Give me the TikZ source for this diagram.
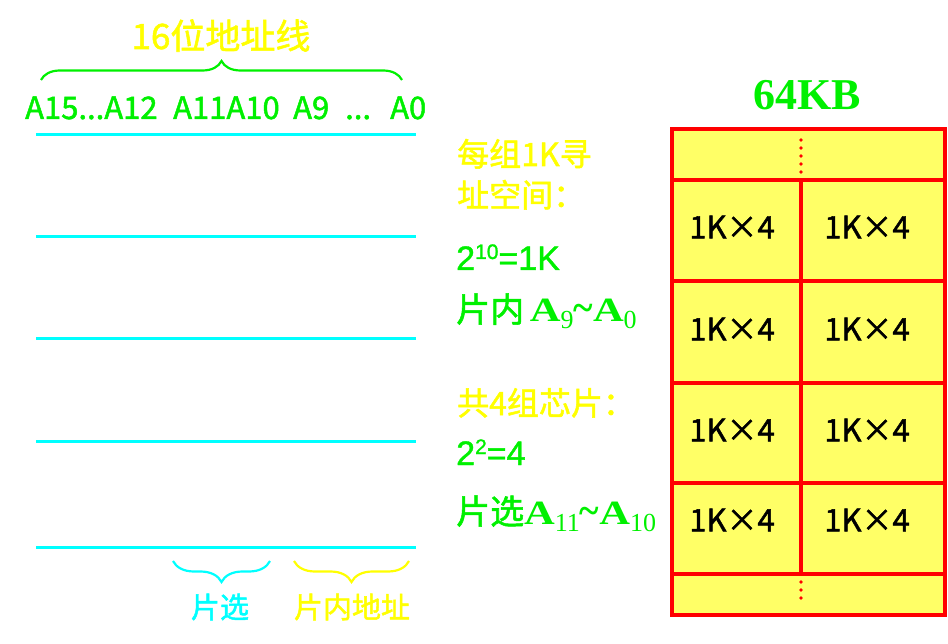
\documentclass[tikz,border=0pt]{standalone}
\usepackage{fontspec}
\setmainfont{Noto Sans CJK SC}[FakeBold=1.6]
\newfontfamily\timesbf{Liberation Serif}
\newfontfamily\arialfont{Liberation Sans}[FakeBold=1.2]
\usepackage{graphicx}
\usetikzlibrary{positioning, decorations.pathreplacing, calc}

\definecolor{addrgreen}{RGB}{0,240,0}
\definecolor{hiyellow}{RGB}{255,255,0}
\definecolor{linecyan}{RGB}{0,255,255}
\definecolor{cellfill}{RGB}{255,255,102}

% bold serif A with a lowered index
\newcommand{\addrA}[1]{{\timesbf\bfseries\scalebox{1.25}[1]{A}}%
  \raisebox{-7pt}{\timesbf\fontsize{26}{26}\selectfont #1}}
\newcommand{\addrtilde}{{\timesbf\bfseries\scalebox{1.1}[1.2]{\textasciitilde}}}
\newcommand{\pxfont}[1]{\fontsize{#1}{#1}\selectfont}

\begin{document}
\begin{tikzpicture}[x=1pt, y=-1pt,
    txt/.style={inner sep=0pt, anchor=base west},
    ytxt/.style={txt, hiyellow, font=\pxfont{32}},
    gtxt/.style={txt, addrgreen, font=\pxfont{34}},
    addr/.style={txt, addrgreen, font=\pxfont{31}},
    busline/.style={linecyan, line width=3pt},
    curly/.style={line width=2.2pt, decorate, decoration={brace, amplitude=#1}},
    chip/.style={inner sep=0pt, font=\pxfont{31}},
    memline/.style={red, line width=4pt}]
  \useasboundingbox (0,0) rectangle (948,644);

  % 16 address lines
  \node[inner sep=0pt, anchor=base, hiyellow, font=\pxfont{35}] (title) at (221,49) {16位地址线};
  \draw[addrgreen, curly=19pt] (41,80) -- (402,80);
  \node[addr] (a15) at (25,119) {A15...A12};
  \node[addr] (a11) at (173,119) {A11A10};
  \node[addr] (a9)  at (293,119) {A9};
  \node[addr] (adots) at (345,119) {...};
  \node[addr] (a0)  at (390,119) {A0};

  % lines of the bus
  \foreach \y in {135,237,339,441,547}
    \draw[busline] (36,\y) -- (416,\y);

  % braces below the bus
  \draw[linecyan, curly=21pt] (270,561) -- (173,561);
  \draw[hiyellow, curly=21pt] (409,561) -- (294,561);
  \node[inner sep=0pt, linecyan, font=\pxfont{29}] (csel) at (220,607) {片选};
  \node[inner sep=0pt, hiyellow, font=\pxfont{29}] (inaddr) at (352,607) {片内地址};

  % notes in the middle
  \node[ytxt] (n1) at (457,166) {每组1K寻};
  \node[ytxt] (n2) at (457,207) {址空间：};
  \node[gtxt] (n3) at (456,270) {\arialfont 2\raisebox{11pt}{\pxfont{21}10}=1K};
  \node[gtxt] (n4) at (456,322) {片内\,\addrA{9}\addrtilde\addrA{0}};
  \node[ytxt] (n5) at (457,415) {共4组芯片：};
  \node[gtxt] (n6) at (456,465) {\arialfont 2\raisebox{11pt}{\pxfont{21}2}=4};
  \node[gtxt] (n7) at (456,524) {片选\addrA{11}\addrtilde\addrA{10}};

  % 64KB memory
  \node[inner sep=0pt, anchor=base, addrgreen, font=\timesbf\bfseries\pxfont{44}] (mem) at (807,110) {64KB};
  \fill[cellfill] (672,129) rectangle (945,615);
  \foreach \y in {180,281,383,483,574}
    \draw[memline] (672,\y) -- (945,\y);
  \draw[memline] (801,180) -- (801,574);
  \draw[memline] (672,129) rectangle (945,615);
  \foreach \k in {0,...,4}
    \fill[red] (801,140+8*\k) circle (1.8pt);
  \foreach \k in {0,1,2}
    \fill[red] (801,582+8*\k) circle (1.8pt);
  \foreach \r/\y in {1/227,2/329,3/430,4/520} {
    \node[chip] (l\r) at (732,\y) {1K×4};
    \node[chip] (r\r) at (867,\y) {1K×4};
  }
\end{tikzpicture}
\end{document}
